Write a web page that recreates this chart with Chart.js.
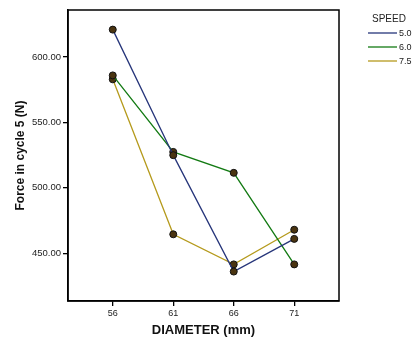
<!DOCTYPE html>
<html>
<head>
<meta charset="utf-8">
<script src="https://cdn.jsdelivr.net/npm/chart.js@4/dist/chart.umd.min.js"></script>
<style>
  html, body { margin: 0; padding: 0; background: #fff; }
  #wrap { width: 417px; height: 338px; }
</style>
</head>
<body>
<div id="wrap"><canvas id="chart_div" width="417" height="338"></canvas></div>
<script>
// Diameter (mm) on X, force in cycle 5 (N) on Y, one line per speed
const diameters = [56, 61, 66, 71];
const speedLabels = ['5.0', '6.0', '7.5'];
const force50 = [621, 525, 436, 461];
const force60 = [586, 527.5, 511.5, 441.5];
const force75 = [583, 464.5, 441.5, 468];
const yTicks = [450, 500, 550, 600];

const lineColors = ['#26357a', '#137a13', '#b59a1c'];

function toPoints(vals) {
  return diameters.map((d, i) => ({ x: d, y: vals[i] }));
}

// box around the plot + legend on the right
const frameAndLegend = {
  id: 'frameAndLegend',
  afterDraw(chart) {
    const c = chart.ctx;
    const a = chart.chartArea;
    c.save();
    c.strokeStyle = '#000';
    c.lineWidth = 1.5;
    c.strokeRect(a.left, a.top, a.right - a.left, a.bottom - a.top);

    c.fillStyle = '#222';
    c.font = '10px "Liberation Sans", Arial, sans-serif';
    c.textBaseline = 'middle';
    c.textAlign = 'left';
    c.fillText('SPEED', 372, 19);
    chart.data.datasets.forEach((ds, i) => {
      const y = 33 + i * 14;
      c.strokeStyle = ds.borderColor;
      c.lineWidth = 1.3;
      c.beginPath();
      c.moveTo(368, y);
      c.lineTo(397, y);
      c.stroke();
      c.fillStyle = '#222';
      c.font = '9px "Liberation Sans", Arial, sans-serif';
      c.fillText(ds.label, 399, y + 0.5);
    });
    c.restore();
  }
};

const ctx = document.getElementById('chart_div').getContext('2d');
new Chart(ctx, {
  type: 'line',
  data: {
    datasets: [force50, force60, force75].map((vals, i) => ({
      label: speedLabels[i],
      data: toPoints(vals),
      borderColor: lineColors[i],
      borderWidth: 1.3,
      fill: false,
      tension: 0,
      pointRadius: 3.5,
      pointBackgroundColor: '#4a3410',
      pointBorderColor: '#111',
      pointBorderWidth: 1
    }))
  },
  options: {
    responsive: false,
    animation: false,
    layout: { padding: { top: 10, right: 78, left: 0, bottom: 0 } },
    plugins: {
      legend: { display: false },
      tooltip: { enabled: false }
    },
    scales: {
      x: {
        type: 'linear',
        min: 52.3,
        max: 74.7,
        afterBuildTicks: s => { s.ticks = diameters.map(v => ({ value: v })); },
        afterFit: s => { s.height = 37; },
        grid: { display: true, drawOnChartArea: false, drawTicks: true, tickLength: 5, color: '#000', lineWidth: 1.3 },
        border: { display: true, color: '#000', width: 1.5 },
        ticks: {
          color: '#222',
          padding: 2,
          font: { family: '"Liberation Sans", Arial, sans-serif', size: 9 },
          callback: v => String(v)
        },
        title: {
          display: true,
          text: 'DIAMETER (mm)',
          color: '#111',
          padding: { top: 1, bottom: 0 },
          font: { family: '"Liberation Sans", Arial, sans-serif', size: 13, weight: 'bold' }
        }
      },
      y: {
        min: 413.5,
        max: 636,
        afterBuildTicks: s => { s.ticks = yTicks.map(v => ({ value: v })); },
        afterFit: s => { s.width = 68; },
        grid: { display: true, drawOnChartArea: false, drawTicks: true, tickLength: 5, color: '#000', lineWidth: 1.3 },
        border: { display: true, color: '#000', width: 1.5 },
        ticks: {
          color: '#222',
          padding: 2,
          font: { family: '"Liberation Sans", Arial, sans-serif', size: 9.5 },
          callback: v => Number(v).toFixed(2)
        },
        title: {
          display: true,
          text: 'Force in cycle 5 (N)',
          color: '#111',
          padding: { top: 13, bottom: 2 },
          font: { family: '"Liberation Sans", Arial, sans-serif', size: 12, weight: 'bold' }
        }
      }
    }
  },
  plugins: [frameAndLegend]
});
</script>
</body>
</html>
